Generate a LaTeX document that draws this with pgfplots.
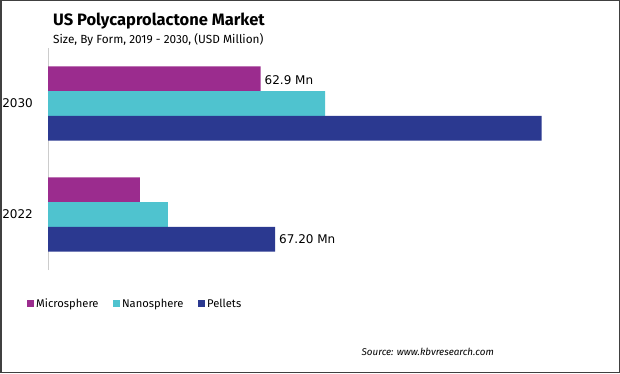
\documentclass[border=0pt]{standalone}
\usepackage{fontspec}
\setmainfont{DejaVu Sans}
\newfontfamily\titlefont{Fira Sans}
\usepackage{pgfplots}
\pgfplotsset{compat=1.18}
\definecolor{micro}{HTML}{9B2C8E}
\definecolor{nano}{HTML}{4FC3CF}
\definecolor{pell}{HTML}{2B3990}
\begin{document}
\begin{tikzpicture}[x=1pt,y=1pt]
\draw[line width=1.5pt, black!75] (0.75,0.75) rectangle (619.25,372.25);
\useasboundingbox (0,0) rectangle (620,373);
\node[anchor=base west, inner sep=0pt, font=\titlefont\bfseries\fontsize{16.5}{18}\selectfont] at (53,347) {US Polycaprolactone Market};
\node[anchor=base west, inner sep=0pt, font=\titlefont\fontsize{11.8}{13}\selectfont] at (53,329) {Size, By Form, 2019 - 2030, (USD Million)};
\begin{axis}[
  at={(48pt,103pt)}, anchor=south west, scale only axis,
  width=500pt, height=222pt,
  xmin=0, xmax=148, ymin=-0.5, ymax=1.5,
  xbar, bar width=24.7pt,
  axis line style={draw=none},
  xtick=\empty, ytick={0,1}, yticklabels={2022,2030},
  major tick length=0pt,
  yticklabel style={font=\fontsize{12}{14}\selectfont, inner sep=0pt, xshift=-15pt},
  clip=false,
  legend style={at={(axis description cs:-0.048,-0.153)}, anchor=west, draw=none, fill=none,
    legend columns=3, font=\titlefont\fontsize{11.2}{13}\selectfont,
    /tikz/every even column/.append style={column sep=12.5pt}},
  legend image code/.code={\fill[#1] (0pt,-3.5pt) rectangle (7pt,3.5pt);},
]
\draw[gray!40, line width=0.8pt] (axis cs:0,-0.5) -- (axis cs:0,1.5);
\addplot[fill=micro, draw=none, bar shift=24.7pt] coordinates {(27.2,0) (62.9,1)};
\addplot[fill=nano, draw=none, bar shift=0pt] coordinates {(35.5,0) (82.0,1)};
\addplot[fill=pell, draw=none, bar shift=-24.7pt] coordinates {(67.2,0) (146.1,1)};
\legend{Microsphere, Nanosphere, Pellets}
\node[anchor=west, inner sep=0pt, xshift=4pt, yshift=23pt, font=\fontsize{12}{14}\selectfont] at (axis cs:62.9,1) {62.9 Mn};
\node[anchor=west, inner sep=0pt, xshift=4pt, yshift=-25pt, font=\fontsize{12}{14}\selectfont] at (axis cs:67.2,0) {67.20 Mn};
\end{axis}
\node[anchor=base east, inner sep=0pt, font=\titlefont\itshape\fontsize{9.8}{11}\selectfont] at (494,18) {Source: www.kbvresearch.com};
\end{tikzpicture}
\end{document}
